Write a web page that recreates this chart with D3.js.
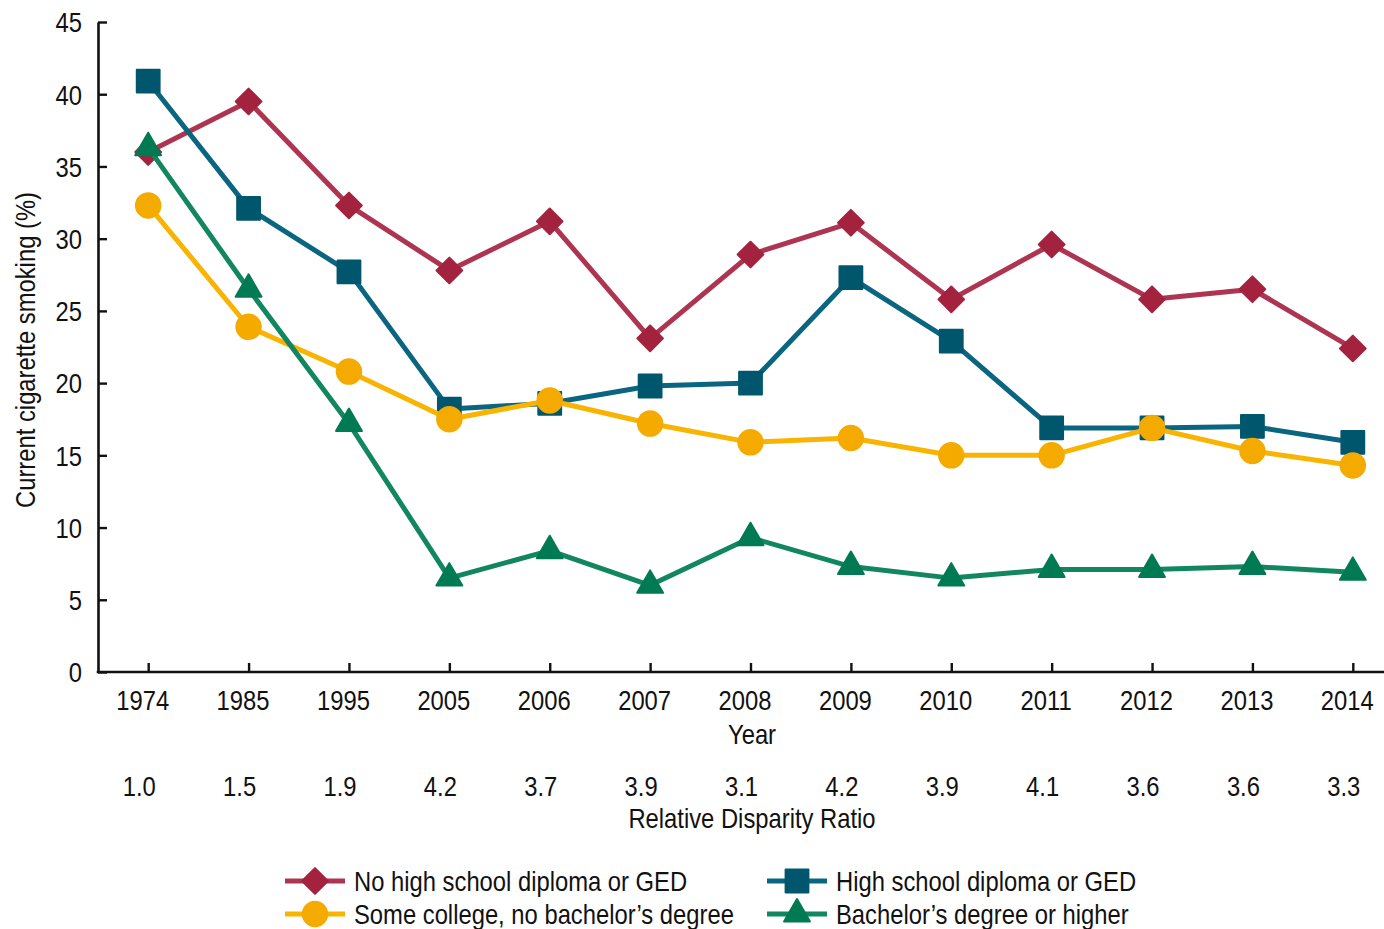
<!DOCTYPE html>
<html>
<head>
<meta charset="utf-8">
<script src="https://cdn.jsdelivr.net/npm/d3@7"></script>
<style>
  body { margin: 0; background: #fff; }
  svg text { font-family: "Liberation Sans", Arial, sans-serif; fill: #111; }
</style>
</head>
<body>
<div id="root"></div>
<script>
// data
const years = ['1974', '1985', '1995', '2005', '2006', '2007', '2008', '2009', '2010', '2011', '2012', '2013', '2014'];
const disparityRatio = ['1.0', '1.5', '1.9', '4.2', '3.7', '3.9', '3.1', '4.2', '3.9', '4.1', '3.6', '3.6', '3.3'];
const noDiploma = [36.0, 39.5, 32.3, 27.8, 31.2, 23.1, 28.9, 31.1, 25.8, 29.6, 25.8, 26.5, 22.4];
const hsDiploma = [40.9, 32.1, 27.7, 18.2, 18.6, 19.8, 20.0, 27.3, 22.9, 16.9, 16.9, 17.0, 15.9];
const someCollege = [32.3, 23.9, 20.8, 17.5, 18.8, 17.2, 15.9, 16.2, 15.0, 15.0, 16.9, 15.3, 14.3];
const bachelors = [36.3, 26.5, 17.2, 6.5, 8.4, 6.0, 9.3, 7.3, 6.5, 7.1, 7.1, 7.3, 6.9];
const yTicks = [0, 5, 10, 15, 20, 25, 30, 35, 40, 45];

let seriesList = [
    { name: 'No high school diploma or GED', values: noDiploma, color: '#a3233f', line: '#ae3551', shape: 'diamond' },
    { name: 'High school diploma or GED', values: hsDiploma, color: '#00576d', line: '#0a6680', shape: 'square' },
    { name: 'Some college, no bachelor\u2019s degree', values: someCollege, color: '#f5aa00', line: '#f8b400', shape: 'circle' },
    { name: 'Bachelor\u2019s degree or higher', values: bachelors, color: '#007a52', line: '#12875f', shape: 'triangle' }
];

let width = 1384, height = 929,
    fontSize = '28px',
    squeeze = 0.85, // no narrow font installed, so squeeze Liberation Sans
    lineWidth = 5;

let svg = d3.select('#root').append('svg')
    .attr('width', width)
    .attr('height', height);

let x = d3.scalePoint().domain(years).range([98, 1403]).padding(0.5),
    y = d3.scaleLinear().domain([0, 45]).range([672, 22]);

// turn x/y into a translate so the text can be squeezed horizontally
function condense(sel) {
    sel.each(function () {
        let t = d3.select(this),
            tx = +t.attr('x') || 0,
            ty = +t.attr('y') || 0;
        t.attr('x', null).attr('y', null)
            .attr('transform', 'translate(' + tx + ',' + ty + ') scale(' + squeeze + ',1)')
            .style('font-size', fontSize);
    });
}

function markerPath(shape) {
    if (shape === 'diamond') return d3.symbol().type(d3.symbolSquare).size(330)();
    if (shape === 'square') return d3.symbol().type(d3.symbolSquare).size(520)();
    if (shape === 'circle') return d3.symbol().type(d3.symbolCircle).size(470)();
    return d3.symbol().type(d3.symbolTriangle).size(290)();
}
function markerRotate(shape) { return shape === 'diamond' ? ' rotate(45)' : ''; }

// axes
let yAxis = svg.append('g')
    .attr('transform', 'translate(98,0)')
    .call(d3.axisLeft(y).tickValues(yTicks).tickSizeInner(-9).tickSizeOuter(0).tickPadding(16));
yAxis.select('.domain').attr('stroke-width', 2.6).attr('stroke', '#111');
yAxis.selectAll('.tick line').attr('stroke-width', 2.4).attr('stroke', '#111');
yAxis.selectAll('.tick text').attr('dy', '0.35em').call(condense);

let xAxis = svg.append('g')
    .attr('transform', 'translate(0,672)')
    .call(d3.axisBottom(x).tickSizeInner(-9).tickSizeOuter(0));
xAxis.select('.domain').attr('stroke-width', 2.6).attr('stroke', '#111').attr('d', 'M96.7,0H1403');
xAxis.selectAll('.tick line').attr('stroke-width', 2.4).attr('stroke', '#111');
xAxis.selectAll('.tick text').attr('x', -6).attr('y', 38).attr('dy', null).call(condense);

// ratio row
svg.append('g').selectAll('text')
    .data(disparityRatio)
    .enter()
    .append('text')
    .attr('x', (d, i) => x(years[i]) - 9)
    .attr('y', 796)
    .attr('text-anchor', 'middle')
    .text(d => d)
    .call(condense);

svg.append('text')
    .attr('x', 752).attr('y', 744)
    .attr('text-anchor', 'middle')
    .text('Year')
    .call(condense);

svg.append('text')
    .attr('x', 752).attr('y', 828)
    .attr('text-anchor', 'middle')
    .text('Relative Disparity Ratio')
    .call(condense);

svg.append('text')
    .attr('transform', 'translate(35,350) rotate(-90) scale(' + squeeze + ',1)')
    .attr('text-anchor', 'middle')
    .style('font-size', fontSize)
    .text('Current cigarette smoking (%)');

// lines + markers
let line = d3.line()
    .x((d, i) => x(years[i]))
    .y(d => y(d));

let plot = svg.append('g');
seriesList.forEach(s => {
    let g = plot.append('g');
    g.append('path')
        .attr('d', line(s.values))
        .attr('fill', 'none')
        .attr('stroke', s.line)
        .attr('stroke-width', lineWidth)
        .attr('stroke-linejoin', 'round');
    g.selectAll('.marker')
        .data(s.values)
        .enter()
        .append('path')
        .attr('class', 'marker')
        .attr('transform', (d, i) => 'translate(' + x(years[i]) + ',' + y(d) + ')' + markerRotate(s.shape))
        .attr('d', markerPath(s.shape))
        .attr('fill', s.color)
        .attr('stroke', s.color)
        .attr('stroke-width', 2)
        .attr('stroke-linejoin', 'round');
});

// legend
let legendPos = [[285, 881], [767, 881], [285, 914], [767, 914]];
let legend = svg.append('g');
seriesList.forEach((s, i) => {
    let [lx, ly] = legendPos[i];
    let g = legend.append('g').attr('transform', 'translate(' + lx + ',' + ly + ')');
    g.append('line')
        .attr('x1', 0).attr('x2', 60)
        .attr('stroke', s.line)
        .attr('stroke-width', lineWidth);
    g.append('path')
        .attr('transform', 'translate(30,0)' + markerRotate(s.shape))
        .attr('d', markerPath(s.shape))
        .attr('fill', s.color)
        .attr('stroke', s.color)
        .attr('stroke-width', 2)
        .attr('stroke-linejoin', 'round');
    g.append('text')
        .attr('x', 69)
        .attr('y', 10)
        .text(s.name)
        .call(condense);
});
</script>
</body>
</html>
